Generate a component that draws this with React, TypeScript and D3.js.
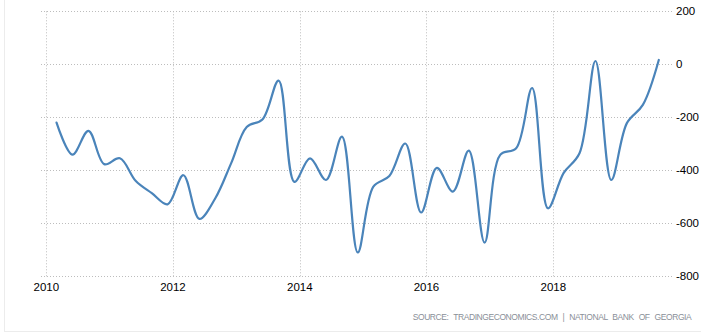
import React from "react";
import * as d3 from "d3";

const startYear = 2010;
const startMonth = 2; // March: quarterly points, plotted at the third month
const values: number[] = [
  -221, -342, -252, -378,
  -356, -442, -488, -530,
  -420, -585, -507, -375,
  -238, -208, -62, -445,
  -356, -438, -274, -712,
  -463, -423, -300, -561,
  -392, -482, -327, -675,
  -343, -318, -90, -545,
  -412, -337, 12, -438,
  -223, -154, 16,
];
const xTickYears: number[] = [2010, 2012, 2014, 2016, 2018];
const yTicks: number[] = [200, 0, -200, -400, -600, -800];
const sourceText = "SOURCE: TRADINGECONOMICS.COM | NATIONAL BANK OF GEORGIA";

const W = 722;
const H = 336;

export default function App() {
  const dates = values.map((_, i) => new Date(startYear, startMonth + 3 * i, 1));
  const x = d3
    .scaleTime()
    .domain([new Date(2010, 0, 1), new Date(2018, 0, 1)])
    .range([46.3, 553.3]);
  const y = d3.scaleLinear().domain([-800, 200]).range([275.7, 11.3]);

  const line = d3
    .line<number>()
    .x((_, i) => x(dates[i]))
    .y((d) => y(d))
    .curve(d3.curveCatmullRom.alpha(0.5));

  const gridLeft = 41;
  const gridRight = 673;
  const font = "'Liberation Sans', Arial, sans-serif";

  return (
    <svg
      width={W}
      height={H}
      style={{ position: "absolute", left: 0, top: 0, display: "block" }}
    >
      <rect x={0} y={0} width={W} height={H} fill="#fff" />
      <line x1={4.5} x2={4.5} y1={0} y2={332} stroke="#ececec" strokeWidth={1} />
      <line x1={4} x2={701} y1={331.5} y2={331.5} stroke="#ececec" strokeWidth={1} />
      {yTicks.map((t) => (
        <line
          key={"h" + t}
          x1={gridLeft}
          x2={gridRight}
          y1={Math.round(y(t)) + 0.5}
          y2={Math.round(y(t)) + 0.5}
          stroke="#bdbdbd"
          strokeDasharray="1 2"
        />
      ))}
      {xTickYears.map((yr) => {
        const px = Math.round(x(new Date(yr, 0, 1))) + 0.5;
        return (
          <line
            key={"v" + yr}
            x1={px}
            x2={px}
            y1={y(200)}
            y2={y(-800) + 1}
            stroke="#bdbdbd"
            strokeDasharray="1 2"
          />
        );
      })}
      <path
        d={line(values) || ""}
        fill="none"
        stroke="#4a84ba"
        strokeWidth={2.2}
        strokeLinejoin="round"
        strokeLinecap="round"
      />
      {yTicks.map((t) => (
        <text
          key={"yl" + t}
          x={676}
          y={y(t)}
          dy="0.36em"
          fontFamily={font}
          fontSize={11.5}
          fill="#000"
        >
          {t}
        </text>
      ))}
      {xTickYears.map((yr) => (
        <text
          key={"xl" + yr}
          x={x(new Date(yr, 0, 1))}
          y={290.5}
          textAnchor="middle"
          fontFamily={font}
          fontSize={11.5}
          fill="#000"
        >
          {yr}
        </text>
      ))}
      <text
        x={412.7}
        y={319.5}
        fontFamily={font}
        fontSize={8.5}
        fill="#8a8f98"
        wordSpacing={3}
        textLength={279}
        lengthAdjust="spacing"
      >
        {sourceText}
      </text>
    </svg>
  );
}
